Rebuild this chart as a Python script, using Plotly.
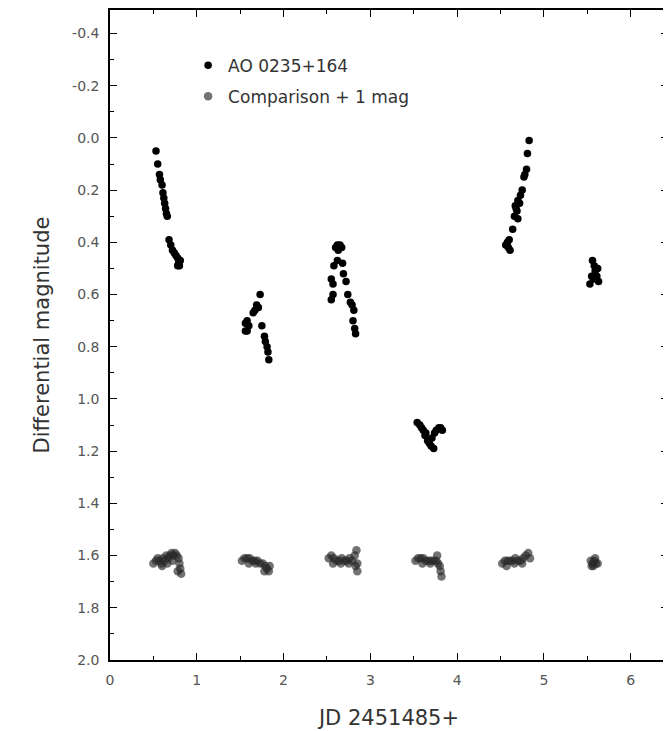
import plotly.graph_objects as go

# AO 0235+164 differential magnitudes (JD offset, mag)
ao_jd = [0.53, 0.55, 0.57, 0.58, 0.60, 0.61, 0.62, 0.63, 0.64, 0.65, 0.66, 0.68, 0.70, 0.72, 0.74, 0.76, 0.78, 0.79, 0.80, 0.78, 0.81,
         1.73, 1.69, 1.67, 1.65, 1.56, 1.58, 1.60, 1.58, 1.56, 1.75, 1.78, 1.79, 1.81, 1.82, 1.83, 1.71,
         2.60, 2.62, 2.65, 2.67, 2.63, 2.58, 2.68, 2.62, 2.55, 2.57, 2.72, 2.55, 2.57, 2.74, 2.77, 2.79, 2.81, 2.80, 2.82, 2.83, 2.69,
         3.54, 3.57, 3.59, 3.61, 3.63, 3.66, 3.68, 3.71, 3.74, 3.76, 3.79, 3.81, 3.83, 3.73, 3.70, 3.64,
         4.83, 4.81, 4.80, 4.78, 4.77, 4.75, 4.73, 4.70, 4.67, 4.69, 4.66, 4.70, 4.64, 4.60, 4.58, 4.56, 4.59, 4.61, 4.72, 4.68,
         5.56, 5.58, 5.59, 5.61, 5.63, 5.55, 5.53, 5.57, 5.62]
ao_mag = [0.05, 0.10, 0.14, 0.16, 0.18, 0.21, 0.23, 0.25, 0.27, 0.29, 0.30, 0.39, 0.41, 0.43, 0.44, 0.45, 0.46, 0.48, 0.49, 0.49, 0.47,
          0.60, 0.64, 0.66, 0.67, 0.71, 0.70, 0.72, 0.74, 0.74, 0.72, 0.76, 0.78, 0.80, 0.82, 0.85, 0.65,
          0.42, 0.41, 0.41, 0.42, 0.43, 0.49, 0.48, 0.47, 0.54, 0.56, 0.55, 0.62, 0.60, 0.60, 0.63, 0.64, 0.66, 0.70, 0.73, 0.75, 0.52,
          1.09, 1.10, 1.11, 1.12, 1.14, 1.16, 1.17, 1.15, 1.13, 1.12, 1.11, 1.11, 1.12, 1.19, 1.18, 1.13,
          0.01, 0.06, 0.12, 0.14, 0.15, 0.20, 0.22, 0.24, 0.26, 0.28, 0.30, 0.31, 0.35, 0.39, 0.40, 0.41, 0.42, 0.43, 0.25, 0.27,
          0.47, 0.49, 0.51, 0.53, 0.55, 0.53, 0.56, 0.54, 0.50]

# Comparison star + 1 mag
comp_jd = [0.50, 0.53, 0.55, 0.57, 0.59, 0.61, 0.63, 0.65, 0.67, 0.69, 0.71, 0.73, 0.75, 0.77, 0.79, 0.80, 0.81, 0.82, 0.78, 0.60, 0.66, 0.72,
           1.52, 1.55, 1.58, 1.61, 1.64, 1.67, 1.70, 1.73, 1.76, 1.79, 1.81, 1.83, 1.84, 1.60, 1.68, 1.78,
           2.52, 2.55, 2.58, 2.61, 2.64, 2.67, 2.70, 2.73, 2.76, 2.79, 2.82, 2.84, 2.85, 2.85, 2.83, 2.57, 2.66, 2.75,
           3.52, 3.55, 3.58, 3.61, 3.64, 3.67, 3.70, 3.73, 3.76, 3.78, 3.80, 3.81, 3.82, 3.60, 3.69, 3.77,
           4.52, 4.55, 4.58, 4.61, 4.64, 4.67, 4.70, 4.73, 4.76, 4.79, 4.82, 4.84, 4.57, 4.66, 4.75,
           5.54, 5.56, 5.58, 5.60, 5.57, 5.59, 5.62, 5.55]
comp_mag = [1.63, 1.62, 1.61, 1.62, 1.63, 1.61, 1.62, 1.60, 1.61, 1.60, 1.59, 1.60, 1.59, 1.60, 1.61, 1.63, 1.65, 1.67, 1.66, 1.64, 1.63, 1.62,
            1.62, 1.61, 1.61, 1.61, 1.62, 1.62, 1.62, 1.63, 1.63, 1.64, 1.65, 1.66, 1.64, 1.63, 1.63, 1.66,
            1.61, 1.60, 1.61, 1.62, 1.62, 1.61, 1.62, 1.62, 1.61, 1.62, 1.60, 1.58, 1.63, 1.66, 1.64, 1.63, 1.63, 1.63,
            1.62, 1.61, 1.61, 1.61, 1.62, 1.62, 1.62, 1.62, 1.62, 1.63, 1.64, 1.66, 1.68, 1.63, 1.63, 1.60,
            1.63, 1.62, 1.62, 1.62, 1.62, 1.61, 1.62, 1.62, 1.61, 1.60, 1.59, 1.61, 1.64, 1.63, 1.63,
            1.62, 1.63, 1.62, 1.63, 1.64, 1.61, 1.63, 1.64]

x_ticks = [0, 1, 2, 3, 4, 5, 6]
y_ticks = [-0.4, -0.2, 0.0, 0.2, 0.4, 0.6, 0.8, 1.0, 1.2, 1.4, 1.6, 1.8, 2.0]

fig = go.Figure()
fig.add_trace(go.Scatter(
    x=ao_jd, y=ao_mag, mode="markers", name="AO 0235+164", legendgroup="a",
    marker=dict(color="black", size=7.5, line=dict(width=0)),
))
fig.add_trace(go.Scatter(
    x=comp_jd, y=comp_mag, mode="markers", name="Comparison + 1 mag", legendgroup="b",
    marker=dict(color="rgba(40,40,40,0.65)", size=8.5, line=dict(width=0)),
))

font_family = "DejaVu Sans, Liberation Sans, Arial, sans-serif"
axis_common = dict(
    showline=True, linecolor="black", linewidth=1.5, mirror="ticks",
    ticks="inside", ticklen=7, tickwidth=1.2, tickcolor="black",
    showgrid=False, zeroline=False,
    tickfont=dict(family=font_family, size=14, color="#555"),
)

fig.update_xaxes(
    range=[0, 6.43], tickvals=x_ticks, ticktext=[str(v) for v in x_ticks],
    minor=dict(dtick=0.5, ticks="inside", ticklen=4, tickcolor="black", showgrid=False),
    ticklabelstandoff=6,
    title=dict(text="JD 2451485+", font=dict(family=font_family, size=21, color="#333"), standoff=24),
    **axis_common,
)
fig.update_yaxes(
    range=[2.0, -0.49], tickvals=y_ticks, ticktext=[f"{v:.1f}" for v in y_ticks],
    minor=dict(dtick=0.1, ticks="inside", ticklen=4, tickcolor="black", showgrid=False),
    ticklabelstandoff=6,
    title=dict(text="Differential magnitude", font=dict(family=font_family, size=21, color="#333"), standoff=17),
    **axis_common,
)

fig.update_layout(
    width=663, height=723,
    margin=dict(l=102, r=3, t=0, b=71),
    paper_bgcolor="white", plot_bgcolor="white",
    showlegend=True,
    legend=dict(
        x=0.14, y=0.942, xanchor="left", yanchor="top",
        bgcolor="rgba(0,0,0,0)", borderwidth=0,
        font=dict(family=font_family, size=17, color="#333"),
        traceorder="grouped", tracegroupgap=6, itemwidth=30,
    ),
)

fig.write_html("out.html")
